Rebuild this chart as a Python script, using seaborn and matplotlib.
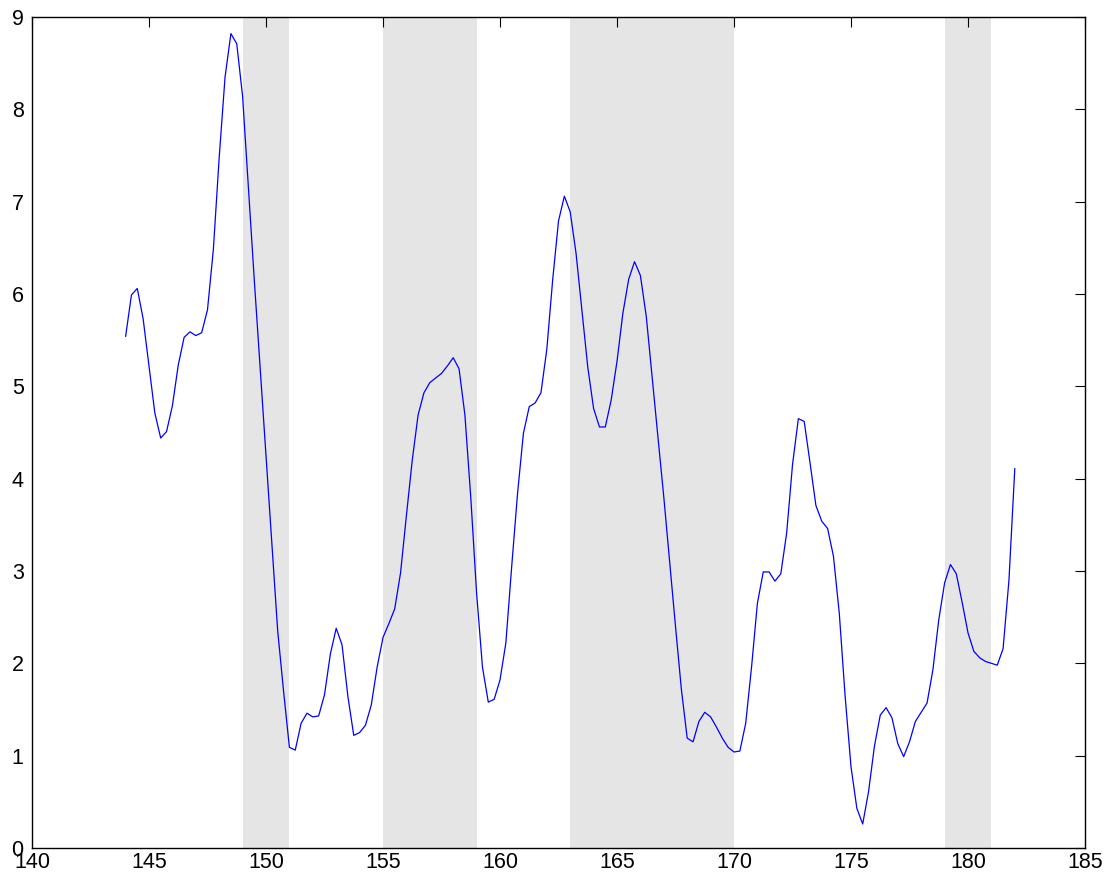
import numpy as np
import pandas as pd
import matplotlib
matplotlib.use("Agg")
import matplotlib.pyplot as plt
import seaborn as sns

# Quarterly series starting at 144.0, step 0.25
start_x = 144.0
step_x = 0.25
values = [
    5.54, 5.99, 6.06, 5.73, 5.22, 4.71, 4.44, 4.51, 4.79, 5.23, 5.53, 5.59,
    5.55, 5.58, 5.83, 6.48, 7.48, 8.35, 8.82, 8.71, 8.14, 7.15, 6.15, 5.20,
    4.25, 3.30, 2.35, 1.70, 1.09, 1.06, 1.35, 1.46, 1.42, 1.43, 1.66, 2.10,
    2.38, 2.20, 1.64, 1.22, 1.25, 1.33, 1.55, 1.96, 2.28, 2.43, 2.59, 2.98,
    3.60, 4.20, 4.69, 4.93, 5.04, 5.09, 5.14, 5.22, 5.31, 5.19, 4.69, 3.80,
    2.76, 1.96, 1.58, 1.61, 1.82, 2.22, 3.05, 3.84, 4.49, 4.78, 4.82, 4.93,
    5.40, 6.15, 6.79, 7.06, 6.89, 6.44, 5.83, 5.21, 4.76, 4.56, 4.56, 4.85,
    5.27, 5.79, 6.16, 6.35, 6.20, 5.76, 5.10, 4.45, 3.80, 3.10, 2.40, 1.72,
    1.19, 1.15, 1.37, 1.47, 1.42, 1.31, 1.19, 1.09, 1.04, 1.05, 1.35, 1.96,
    2.65, 2.99, 2.99, 2.89, 2.97, 3.41, 4.15, 4.65, 4.62, 4.17, 3.71, 3.54,
    3.46, 3.16, 2.54, 1.64, 0.88, 0.43, 0.26, 0.61, 1.10, 1.44, 1.52, 1.41,
    1.13, 0.99, 1.15, 1.37, 1.47, 1.57, 1.93, 2.47, 2.87, 3.07, 2.97, 2.66,
    2.33, 2.13, 2.06, 2.02, 2.00, 1.98, 2.16, 2.90, 4.11,
]

shade_starts = [149, 155, 163, 179]
shade_ends = [151, 159, 170, 181]

x_ticks = [140, 145, 150, 155, 160, 165, 170, 175, 180, 185]
y_ticks = [0, 1, 2, 3, 4, 5, 6, 7, 8, 9]

x = start_x + step_x * np.arange(len(values))
df = pd.DataFrame({"x": x, "y": values})

sns.set_style("white")
plt.rcParams["font.family"] = ["Liberation Sans", "DejaVu Sans"]

fig = plt.figure(figsize=(11.13, 8.86), dpi=100)
ax = fig.add_axes([32 / 1113, 38 / 886, (1085 - 32) / 1113, (848 - 17) / 886])

for s, e in zip(shade_starts, shade_ends):
    ax.axvspan(s, e, color="#e5e5e5", lw=0, zorder=0)

sns.lineplot(data=df, x="x", y="y", ax=ax, color="#0000ff", linewidth=0.9, zorder=3)

ax.set_xlim(140, 185)
ax.set_ylim(0, 9)
ax.set_xticks(x_ticks)
ax.set_yticks(y_ticks)
ax.set_xticklabels([str(t) for t in x_ticks])
ax.set_yticklabels([str(t) for t in y_ticks])
ax.set_xlabel("")
ax.set_ylabel("")

for sp in ax.spines.values():
    sp.set_visible(True)
    sp.set_color("black")
    sp.set_linewidth(1.0)

ax.tick_params(axis="both", which="major", direction="in", length=7, width=0.8,
               color="black", top=True, right=True, labelsize=15.5, labelcolor="black")
ax.tick_params(axis="x", pad=3)
ax.tick_params(axis="y", pad=6)

fig.savefig("out.png", dpi=100)
